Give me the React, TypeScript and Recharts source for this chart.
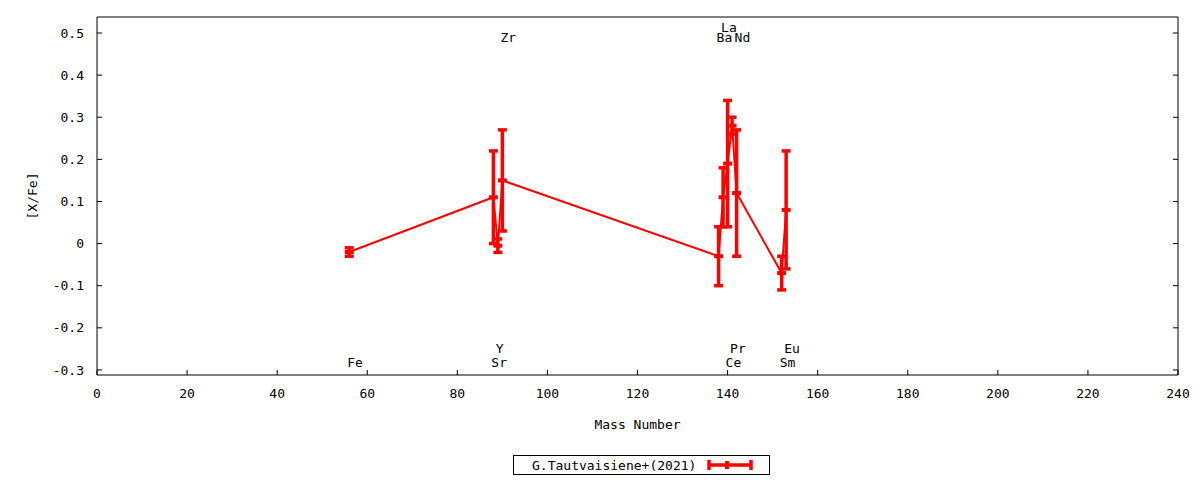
import { ComposedChart, ErrorBar, Line, Scatter, XAxis, YAxis } from 'recharts';

const elements = ['Fe', 'Sr', 'Y', 'Zr', 'Ba', 'La', 'Ce', 'Pr', 'Nd', 'Sm', 'Eu'];
const massNumbers = [56, 88, 89, 90, 138, 139, 140, 141, 142, 152, 153];
const abundances = [-0.02, 0.11, -0.005, 0.15, -0.03, 0.11, 0.19, 0.28, 0.12, -0.07, 0.08];
const errors = [0.01, 0.11, 0.016, 0.12, 0.07, 0.07, 0.15, 0.02, 0.15, 0.04, 0.14];
// where each element name sits: top or bottom of the frame, first or second row
const labelSide = ['bottom', 'bottom', 'bottom', 'top', 'top', 'top', 'bottom', 'bottom', 'top', 'bottom', 'bottom'];
const labelRow = [0, 0, 1, 0, 0, 1, 0, 1, 0, 0, 1];

const xTicks = [0, 20, 40, 60, 80, 100, 120, 140, 160, 180, 200, 220, 240];
const yTicks = [-0.3, -0.2, -0.1, 0, 0.1, 0.2, 0.3, 0.4, 0.5];
const seriesName = 'G.Tautvaisiene+(2021)';

const FONT = '"DejaVu Sans Mono", monospace';
const RED = '#ff0000';
const Y_DOMAIN: [number, number] = [-0.312, 0.538];

const points = massNumbers.map((m, i) => ({ x: m, y: abundances[i], err: errors[i] }));

const labelY = (side: string, row: number) =>
  side === 'top' ? (row === 0 ? 0.49 : 0.513) : row === 0 ? -0.282 : -0.249;

const labels = elements.map((name, i) => ({
  x: massNumbers[i],
  y: labelY(labelSide[i], labelRow[i]),
  name,
}));

const PointMark = (props: any) => {
  const { cx, cy } = props;
  if (cx == null || cy == null) return null;
  return <rect x={cx - 4.5} y={cy - 2} width={9} height={4} fill={RED} />;
};

const ElementLabel = (props: any) => {
  const { cx, cy, payload } = props;
  return (
    <text x={cx - 2} y={cy} dominantBaseline="central" fontFamily={FONT} fontSize={13} fill="#000">
      {payload.name}
    </text>
  );
};

const tickStyle = { fontFamily: FONT, fontSize: 13, fill: '#000' };

export default function App() {
  return (
    <div style={{ position: 'absolute', left: 0, top: 0, width: 1200, height: 480, background: '#fff' }}>
      <ComposedChart width={1200} height={480} margin={{ top: 16, right: 21, left: 0, bottom: 0 }}>
        <XAxis
          xAxisId="bottom"
          dataKey="x"
          type="number"
          domain={[0, 240]}
          ticks={xTicks}
          height={105}
          tickSize={-5}
          tickMargin={19}
          tick={tickStyle}
          stroke="#000"
          tickLine={{ stroke: '#000' }}
          label={{
            content: ({ viewBox }: any) => (
              <text
                x={viewBox.x + viewBox.width / 2}
                y={viewBox.y + 49}
                textAnchor="middle"
                dominantBaseline="central"
                fontFamily={FONT}
                fontSize={13}
              >
                Mass Number
              </text>
            ),
          }}
        />
        <XAxis
          xAxisId="top"
          orientation="top"
          dataKey="x"
          type="number"
          domain={[0, 240]}
          ticks={xTicks}
          height={1}
          tickSize={-5}
          tickFormatter={() => ''}
          stroke="#000"
        />
        <YAxis
          yAxisId="left"
          type="number"
          domain={Y_DOMAIN}
          ticks={yTicks}
          allowDataOverflow
          width={97}
          tickSize={-5}
          tickMargin={18}
          tick={tickStyle}
          tickFormatter={(v: number) => (v === 0 ? '0' : v.toFixed(1))}
          stroke="#000"
          label={{
            content: ({ viewBox }: any) => {
              const x = viewBox.x + 32;
              const y = viewBox.y + viewBox.height / 2;
              return (
                <text
                  x={x}
                  y={y}
                  transform={`rotate(-90 ${x} ${y})`}
                  textAnchor="middle"
                  dominantBaseline="central"
                  fontFamily={FONT}
                  fontSize={13}
                >
                  [X/Fe]
                </text>
              );
            },
          }}
        />
        <YAxis
          yAxisId="right"
          orientation="right"
          type="number"
          domain={Y_DOMAIN}
          ticks={yTicks}
          allowDataOverflow
          width={1}
          tickSize={-5}
          tickFormatter={() => ''}
          stroke="#000"
        />
        <Line
          xAxisId="bottom"
          yAxisId="left"
          data={points}
          dataKey="y"
          name={seriesName}
          type="linear"
          stroke={RED}
          strokeWidth={2}
          dot={<PointMark />}
          activeDot={false}
          isAnimationActive={false}
        >
          <ErrorBar dataKey="err" direction="y" width={4.5} strokeWidth={3.5} stroke={RED} isAnimationActive={false} />
        </Line>
        <Scatter
          xAxisId="bottom"
          yAxisId="left"
          data={labels}
          dataKey="y"
          shape={<ElementLabel />}
          isAnimationActive={false}
        />
      </ComposedChart>
      <div
        style={{
          position: 'absolute',
          left: 513,
          top: 455,
          width: 257,
          height: 20,
          border: '1px solid #000',
          boxSizing: 'border-box',
          display: 'flex',
          alignItems: 'center',
          fontFamily: FONT,
          fontSize: 13,
          color: '#000',
        }}
      >
        <span style={{ marginLeft: 18, whiteSpace: 'pre' }}>{seriesName}</span>
        <svg width={48} height={14} style={{ marginLeft: 10 }}>
          <line x1={3} y1={7} x2={45} y2={7} stroke={RED} strokeWidth={3.5} />
          <line x1={3} y1={2} x2={3} y2={12} stroke={RED} strokeWidth={3.5} />
          <line x1={45} y1={2} x2={45} y2={12} stroke={RED} strokeWidth={3.5} />
          <rect x={19} y={3} width={4} height={8} fill={RED} />
        </svg>
      </div>
    </div>
  );
}
